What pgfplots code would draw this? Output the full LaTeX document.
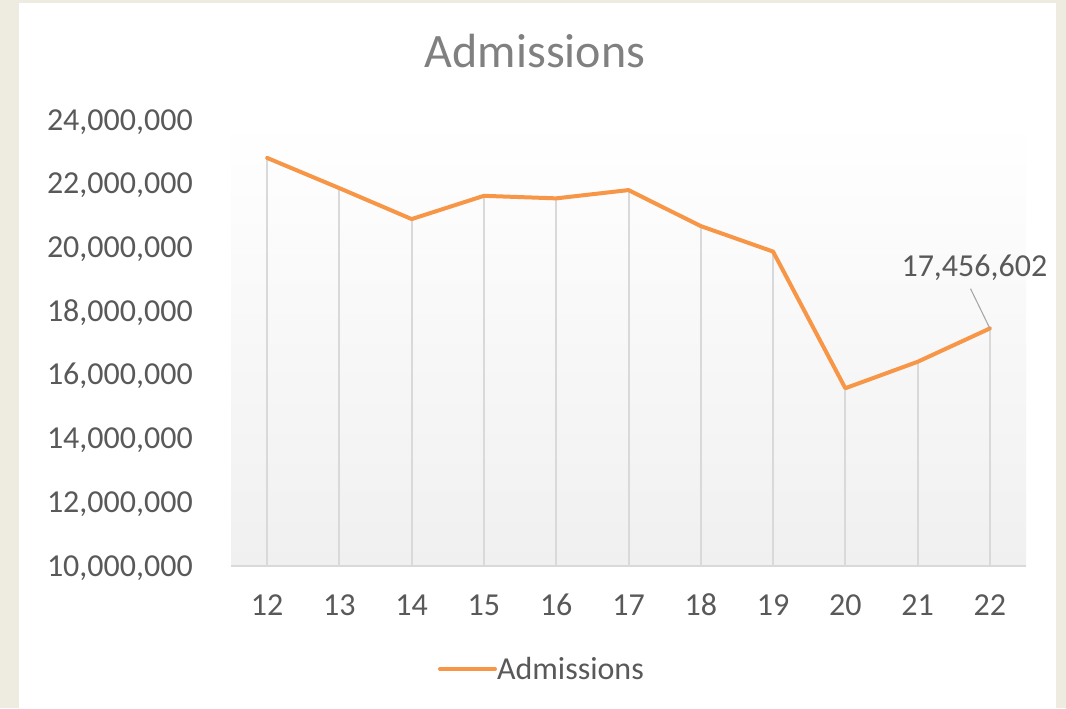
\documentclass[border=0pt]{standalone}
\usepackage{fontspec}
\setmainfont{Carlito}
\usepackage{pgfplots}
\pgfplotsset{compat=1.18}
\usetikzlibrary{calc}
\definecolor{bgbeige}{HTML}{EEECE1}
\definecolor{lineorange}{HTML}{F79646}
\definecolor{txtgray}{HTML}{595959}
\definecolor{titlegray}{HTML}{808080}
\definecolor{dropgray}{HTML}{D9D9D9}
\definecolor{fillbot}{HTML}{F0F0F0}
\definecolor{leadgray}{HTML}{A6A6A6}
\begin{document}
\begin{tikzpicture}
\useasboundingbox (0,0) rectangle (799.5pt,531pt);
\fill[bgbeige] (0,0) rectangle (799.5pt,531pt);
\fill[white] (14.25pt,0) rectangle (792pt,528.75pt);
\node[anchor=base, text=titlegray, font=\fontsize{36}{42}\selectfont, inner sep=0pt] at (401.25pt,480.2pt) {Admissions};
\begin{axis}[
  at={(173.25pt,106.5pt)}, anchor=south west,
  scale only axis, width=596.25pt, height=334.5pt,
  xmin=11.5, xmax=22.5, ymin=10000000, ymax=24000000,
  xtick={12,13,...,22},
  ytick={10000000,12000000,14000000,16000000,18000000,20000000,22000000,24000000},
  scaled y ticks=false,
  /pgf/number format/assume math mode=true,
  yticklabel style={/pgf/number format/fixed, /pgf/number format/1000 sep={,}, anchor=east, inner sep=0pt, text height=15.2pt, text depth=0pt, xshift=-28.5pt, text=txtgray, font=\fontsize{24}{28}\selectfont},
  xticklabel style={anchor=north, inner sep=0pt, text height=15.2pt, text depth=0pt, yshift=-21.75pt, text=txtgray, font=\fontsize{24}{28}\selectfont},
  major tick length=0pt,
  separate axis lines,
  axis x line*=bottom, axis y line*=left,
  x axis line style={draw=dropgray, line width=1.3pt, -},
  y axis line style={draw=none, -},
  axis background/.style={top color=white, bottom color=fillbot},
  legend style={draw=none, fill=none, inner sep=0pt, outer sep=0pt, at={(0.2604,-0.2309)}, anchor=west, font=\fontsize{24}{28}\selectfont, text=txtgray, nodes={inner sep=0pt}},
  /tikz/every even column/.append style={column sep=3pt},
  legend image code/.code={\draw[#1, line cap=round] (0pt,0pt) -- (41.25pt,0pt);},
]
\addplot[ycomb, draw=dropgray, line width=1.5pt, forget plot] coordinates {
 (12,22810000) (13,21860000) (14,20890000) (15,21620000) (16,21540000) (17,21800000)
 (18,20670000) (19,19870000) (20,15580000) (21,16410000) (22,17456602)};
\addplot[draw=lineorange, line width=3pt, line join=round, line cap=round] coordinates {
 (12,22810000) (13,21860000) (14,20890000) (15,21620000) (16,21540000) (17,21800000)
 (18,20670000) (19,19870000) (20,15580000) (21,16410000) (22,17456602)};
\addlegendentry{Admissions}
\coordinate (p22) at (axis cs:22,17456602);
\end{axis}
\draw[leadgray, line width=0.8pt] (p22) -- ++(-14.5pt,29.8pt);
\node[anchor=base, inner sep=0pt, text=txtgray, font=\fontsize{24}{28}\selectfont] at ($(p22)+(-11.6pt,39pt)$) {17,456,602};
\end{tikzpicture}
\end{document}
